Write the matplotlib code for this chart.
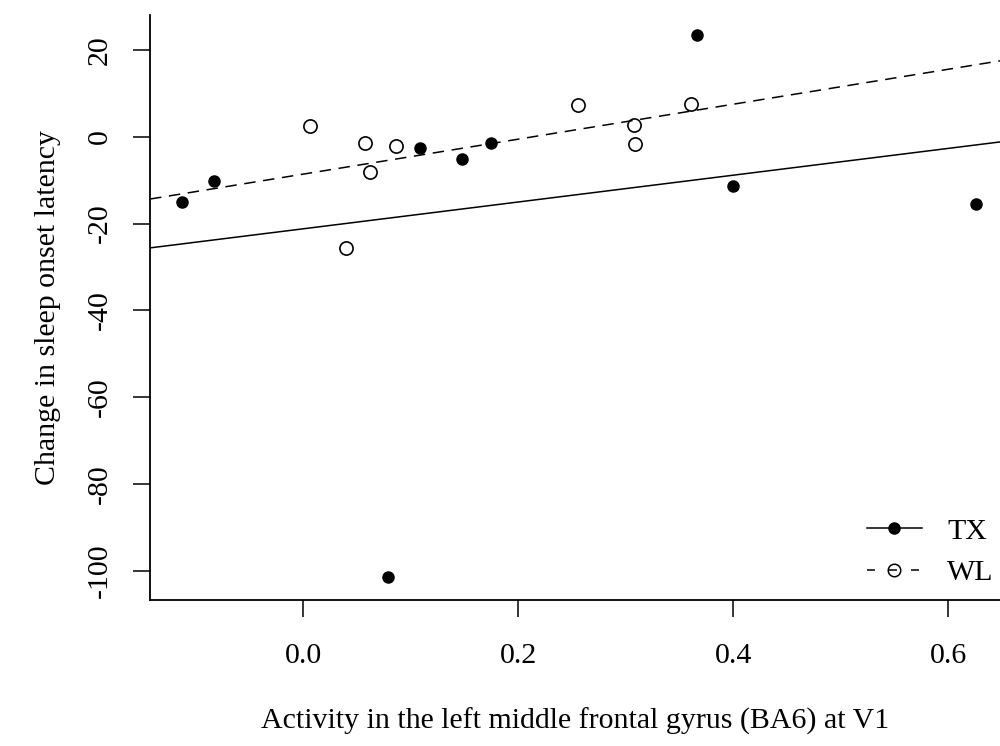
import matplotlib
matplotlib.use('Agg')
import matplotlib.pyplot as plt
from matplotlib.lines import Line2D

plt.rcParams['font.family'] = ['Liberation Serif', 'DejaVu Serif']

# TX group (filled points)
tx_x = [-0.113, -0.083, 0.109, 0.148, 0.175, 0.366, 0.400, 0.626, 0.079]
tx_y = [-15.0, -10.1, -2.5, -5.1, -1.4, 23.5, -11.3, -15.5, -101.4]
# WL group (open points)
wl_x = [0.006, 0.058, 0.062, 0.086, 0.040, 0.256, 0.308, 0.309, 0.361]
wl_y = [2.5, -1.4, -8.1, -2.1, -25.6, 7.4, 2.8, -1.6, 7.6]
# regression lines (intercept, slope)
tx_fit = (-21.2, 30.9)
wl_fit = (-8.6, 40.3)

xticks = [0.0, 0.2, 0.4, 0.6]
yticks = [20, 0, -20, -40, -60, -80, -100]

FS = 21.5
DASH = (0, (7.5, 5))

fig = plt.figure(figsize=(10, 7.46), dpi=100)
ax = fig.add_axes([0.15, 0.196, 0.85, 0.784])

ax.axline((0, tx_fit[0]), slope=tx_fit[1], color='black', lw=1.1)
ax.axline((0, wl_fit[0]), slope=wl_fit[1], color='black', lw=1.1, ls=DASH)
ax.plot(tx_x, tx_y, 'o', ms=8, mfc='black', mec='black', ls='none')
ax.plot(wl_x, wl_y, 'o', ms=9.5, mfc='none', mec='black', mew=1.2, ls='none')

ax.set_xlim(-0.1423, 0.648)
ax.set_ylim(-106.7, 28.1)
ax.set_xticks(xticks)
ax.set_xticklabels(['%.1f' % v for v in xticks])
ax.set_yticks(yticks)
ax.set_yticklabels([str(v) for v in yticks], rotation=90, va='center')
ax.spines['top'].set_visible(False)
ax.spines['right'].set_visible(False)
for s in ('left', 'bottom'):
    ax.spines[s].set_linewidth(1.3)
ax.tick_params(axis='both', length=12.5, width=1.1, labelsize=FS, direction='out')
ax.tick_params(axis='x', pad=18.5)
ax.tick_params(axis='y', pad=14)

ax.set_xlabel('Activity in the left middle frontal gyrus (BA6) at V1', fontsize=FS, labelpad=28)
ax.set_ylabel('Change in sleep onset latency', fontsize=FS, labelpad=19)

handles = [Line2D([], [], color='black', lw=1.1, marker='o', ms=8, mfc='black'),
           Line2D([], [], color='black', lw=1.1, ls=(0, (5.2, 9.2)), marker='o', ms=9, mfc='none', mew=1.1)]
fig.legend(handles, ['TX', 'WL'], loc='upper left', bbox_to_anchor=(0.867, 0.306), frameon=False,
           fontsize=FS, handlelength=1.84, handletextpad=0.84, labelspacing=0.5,
           borderpad=0, borderaxespad=0)

fig.savefig('out.png', dpi=100)
